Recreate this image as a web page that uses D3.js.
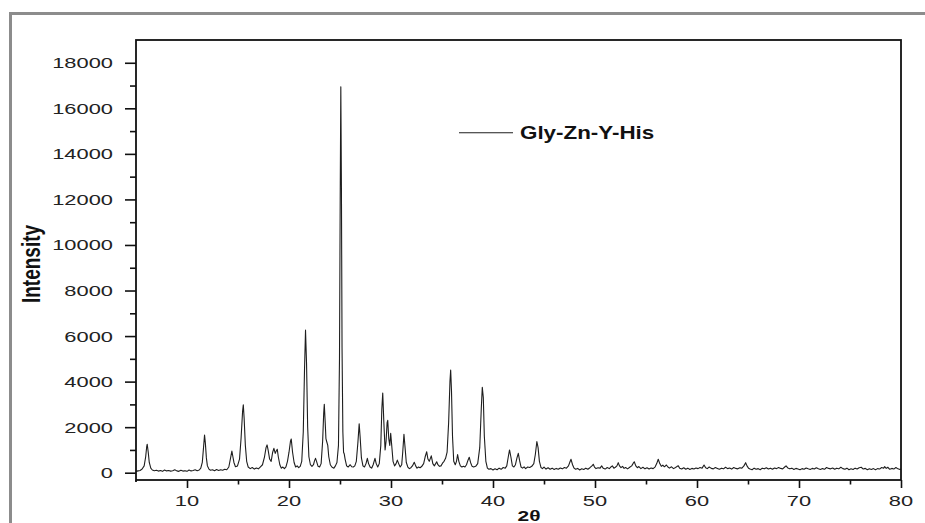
<!DOCTYPE html>
<html><head><meta charset="utf-8">
<script src="https://cdn.jsdelivr.net/npm/d3@7"></script>
<style>
html,body{margin:0;padding:0;background:#fff;}
svg{display:block;}
</style></head>
<body>
<svg id="chart" width="925" height="523"></svg>
<script>
// ---- data (2θ, intensity) ----
const seriesName = "Gly-Zn-Y-His";
const xTicks = [10, 20, 30, 40, 50, 60, 70, 80];
const xMinorTicks = [15, 25, 35, 45, 55, 65, 75];
const yTicks = [0, 2000, 4000, 6000, 8000, 10000, 12000, 14000, 16000, 18000];
const yMinorTicks = [1000, 3000, 5000, 7000, 9000, 11000, 13000, 15000, 17000];
const xTitle = "2θ";
const yTitle = "Intensity";

const pattern = [
[5.0,60],[5.2,80],[5.4,100],[5.6,160],[5.8,300],[5.95,700],[6.05,1150],[6.1,1250],[6.2,900],[6.3,450],[6.45,200],[6.6,120],[6.8,90],
[7.0,110],[7.2,70],[7.4,100],[7.6,60],[7.8,120],[8.0,80],[8.2,100],[8.4,70],[8.6,90],[8.8,130],[9.0,80],[9.2,60],[9.4,110],[9.6,70],[9.8,90],
[10.0,60],[10.2,120],[10.4,80],[10.6,100],[10.8,130],[11.0,90],[11.2,120],[11.35,200],[11.5,450],[11.62,1100],[11.72,1650],[11.8,1300],[11.9,650],
[12.0,300],[12.15,160],[12.3,110],[12.5,130],[12.7,90],[12.9,140],[13.1,100],[13.3,130],[13.5,110],[13.7,150],[13.9,130],[14.1,250],[14.25,600],
[14.4,950],[14.5,700],[14.6,450],[14.75,260],[14.95,300],[15.15,600],[15.3,1500],[15.45,2700],[15.52,2980],[15.6,2400],[15.72,1200],[15.85,500],
[16.0,250],[16.2,180],[16.4,230],[16.6,160],[16.8,210],[17.0,170],[17.2,260],[17.4,350],[17.6,700],[17.75,1100],[17.85,1220],[17.95,1000],
[18.1,600],[18.25,500],[18.4,900],[18.52,1070],[18.65,850],[18.75,950],[18.85,1030],[18.95,700],[19.1,350],[19.25,200],[19.4,250],[19.55,180],
[19.7,260],[19.85,500],[20.0,900],[20.15,1400],[20.22,1480],[20.35,900],[20.5,450],[20.65,250],[20.8,300],[20.95,220],[21.1,280],[21.25,500],
[21.4,1800],[21.52,4500],[21.62,6260],[21.72,4800],[21.83,2000],[21.95,700],[22.1,350],[22.25,280],[22.4,350],[22.5,520],[22.6,630],[22.7,500],
[22.85,280],[23.0,250],[23.15,400],[23.3,1400],[23.4,2600],[23.46,3000],[23.55,2200],[23.62,1500],[23.7,1360],[23.8,1200],[23.9,700],[24.05,350],
[24.2,250],[24.4,200],[24.55,300],[24.7,450],[24.85,1200],[24.95,5000],[25.02,12000],[25.08,16950],[25.14,12500],[25.2,5500],[25.28,1800],
[25.35,900],[25.42,820],[25.5,600],[25.65,300],[25.8,250],[26.0,350],[26.15,260],[26.3,250],[26.45,300],[26.6,500],[26.75,1300],[26.88,2150],
[26.97,1600],[27.1,650],[27.25,300],[27.4,250],[27.55,400],[27.68,630],[27.8,400],[27.95,250],[28.1,200],[28.25,350],[28.43,630],[28.55,400],
[28.7,250],[28.85,400],[29.0,1200],[29.1,2800],[29.19,3500],[29.3,2200],[29.42,1000],[29.52,1400],[29.62,2200],[29.68,2300],[29.78,1500],
[29.88,1200],[29.97,1730],[30.07,1200],[30.2,500],[30.35,300],[30.5,400],[30.62,555],[30.75,400],[30.9,250],[31.05,350],[31.15,900],[31.27,1690],
[31.38,1100],[31.5,450],[31.65,250],[31.8,180],[31.95,220],[32.1,300],[32.28,460],[32.42,300],[32.55,200],[32.7,250],[32.85,220],[33.0,270],
[33.2,400],[33.35,700],[33.5,920],[33.62,600],[33.75,500],[33.95,740],[34.1,400],[34.25,300],[34.4,420],[34.48,483],[34.6,350],[34.75,280],
[34.9,300],[35.05,420],[35.2,500],[35.35,630],[35.5,900],[35.65,2200],[35.78,4000],[35.85,4510],[35.93,3600],[36.03,1600],[36.15,500],[36.3,350],
[36.42,500],[36.53,800],[36.65,500],[36.8,300],[36.95,250],[37.1,280],[37.25,250],[37.4,350],[37.55,550],[37.67,680],[37.8,450],[37.95,280],
[38.1,250],[38.3,280],[38.5,400],[38.7,1100],[38.85,2800],[38.95,3750],[39.05,3300],[39.15,1600],[39.3,500],[39.45,200],[39.6,150],[39.8,180],
[40.0,120],[40.2,170],[40.4,130],[40.6,200],[40.8,150],[41.0,230],[41.2,200],[41.35,300],[41.5,700],[41.62,1000],[41.75,700],[41.9,300],
[42.05,250],[42.2,350],[42.35,650],[42.48,850],[42.6,550],[42.75,250],[42.9,200],[43.05,260],[43.2,180],[43.4,250],[43.6,230],[43.8,280],
[44.0,400],[44.15,800],[44.3,1370],[44.42,1100],[44.55,500],[44.7,230],[44.85,180],[45.0,250],[45.2,160],[45.4,220],[45.6,150],[45.8,200],
[46.0,140],[46.2,190],[46.4,150],[46.6,210],[46.8,170],[47.0,230],[47.2,200],[47.4,300],[47.55,480],[47.65,590],[47.8,350],[47.95,200],
[48.1,150],[48.3,190],[48.5,120],[48.7,170],[48.9,140],[49.1,200],[49.3,150],[49.5,220],[49.7,300],[49.83,370],[49.95,250],[50.1,180],
[50.3,220],[50.5,200],[50.65,300],[50.8,200],[51.0,160],[51.2,230],[51.4,180],[51.55,250],[51.7,300],[51.85,200],[52.0,240],[52.15,300],
[52.28,440],[52.4,300],[52.55,220],[52.7,280],[52.85,190],[53.0,230],[53.2,170],[53.4,240],[53.6,300],[53.75,420],[53.85,480],[54.0,300],
[54.15,220],[54.3,270],[54.5,180],[54.7,240],[54.9,170],[55.1,220],[55.3,160],[55.5,210],[55.7,180],[55.9,260],[56.05,400],[56.2,590],
[56.35,400],[56.5,280],[56.65,330],[56.8,260],[57.0,340],[57.15,250],[57.3,200],[57.5,260],[57.7,180],[57.9,230],[58.05,280],[58.17,300],
[58.3,200],[58.5,160],[58.7,220],[58.9,150],[59.1,200],[59.3,140],[59.5,190],[59.7,160],[59.9,210],[60.1,180],[60.3,230],[60.5,200],
[60.69,340],[60.85,220],[61.0,180],[61.2,250],[61.4,190],[61.6,170],[61.8,230],[62.0,190],[62.2,150],[62.4,200],[62.6,170],[62.8,240],
[63.0,180],[63.2,210],[63.4,160],[63.6,230],[63.8,190],[64.0,170],[64.2,220],[64.4,200],[64.6,300],[64.77,440],[64.9,300],[65.05,200],
[65.2,160],[65.4,130],[65.6,200],[65.8,150],[66.0,180],[66.2,130],[66.4,200],[66.6,170],[66.8,220],[67.0,160],[67.2,200],[67.4,150],
[67.6,210],[67.8,180],[68.0,230],[68.2,190],[68.4,170],[68.6,250],[68.73,300],[68.9,210],[69.1,170],[69.3,200],[69.5,140],[69.7,190],
[69.9,160],[70.1,130],[70.3,180],[70.5,150],[70.7,210],[70.9,170],[71.1,140],[71.3,190],[71.5,160],[71.7,220],[71.9,170],[72.1,140],
[72.3,180],[72.5,150],[72.7,230],[72.9,190],[73.1,170],[73.3,210],[73.5,150],[73.7,200],[73.9,170],[74.1,240],[74.3,180],[74.5,150],
[74.7,200],[74.9,130],[75.1,170],[75.3,140],[75.5,200],[75.7,160],[75.9,220],[76.1,240],[76.3,160],[76.5,190],[76.7,130],[76.9,170],
[77.1,140],[77.3,180],[77.5,130],[77.7,180],[77.9,160],[78.1,230],[78.3,200],[78.4,265],[78.55,190],[78.7,240],[78.9,150],[79.1,190],
[79.3,160],[79.5,230],[79.7,170],[79.9,140],[80.0,160]
];

// ---- layout ----
const svg = d3.select("#chart");
const plot = {left: 136, right: 901, top: 40, bottom: 480};
const x = d3.scaleLinear().domain([5, 80]).range([plot.left, plot.right]);
const y = d3.scaleLinear().domain([-320, 19000]).range([plot.bottom, plot.top]);
const font = "'Liberation Sans', Arial, Helvetica, sans-serif";
const stretch = 1.42;

// outer gray frame
svg.append("line").attr("x1", 10.5).attr("x2", 925).attr("y1", 13.5).attr("y2", 13.5)
  .attr("stroke", "#8c8c8c").attr("stroke-width", 3);
svg.append("line").attr("x1", 10.5).attr("x2", 10.5).attr("y1", 12).attr("y2", 523)
  .attr("stroke", "#8c8c8c").attr("stroke-width", 3);

// data line
const line = d3.line().x(d => x(d[0])).y(d => y(d[1]));
svg.append("path").datum(pattern).attr("d", line)
  .attr("fill", "none").attr("stroke", "#1e1e1e").attr("stroke-width", 1.1)
  .attr("stroke-linejoin", "round");

// axes
function styleAxis(g) {
  g.select(".domain").remove();
  g.selectAll(".tick line").attr("stroke", "#111").attr("stroke-width", 1.6);
  g.selectAll(".tick text").remove();
}
svg.append("g").attr("transform", `translate(${plot.left},0)`)
  .call(d3.axisLeft(y).tickValues(yTicks).tickSize(11).tickSizeOuter(0)).call(styleAxis);
svg.append("g").attr("transform", `translate(${plot.left},0)`)
  .call(d3.axisLeft(y).tickValues(yMinorTicks).tickSize(6).tickSizeOuter(0)).call(styleAxis);
svg.append("g").attr("transform", `translate(0,${plot.bottom})`)
  .call(d3.axisBottom(x).tickValues(xTicks).tickSize(8).tickSizeOuter(0)).call(styleAxis);
svg.append("g").attr("transform", `translate(0,${plot.bottom})`)
  .call(d3.axisBottom(x).tickValues(xMinorTicks).tickSize(4.5).tickSizeOuter(0)).call(styleAxis);

// frame box
svg.append("rect").attr("x", plot.left).attr("y", plot.top)
  .attr("width", plot.right - plot.left).attr("height", plot.bottom - plot.top)
  .attr("fill", "none").attr("stroke", "#111").attr("stroke-width", 1.8);
svg.append("line").attr("x1", plot.left).attr("x2", plot.left).attr("y1", plot.bottom).attr("y2", plot.bottom + 2)
  .attr("stroke", "#111").attr("stroke-width", 1.8);

// tick labels
svg.append("g").selectAll("text").data(yTicks).join("text")
  .attr("transform", d => `translate(113,${y(d) + 5.5}) scale(${stretch},1)`)
  .attr("text-anchor", "end").attr("font-family", font).attr("font-size", 15.4)
  .attr("fill", "#222").text(d => d);
svg.append("g").selectAll("text").data(xTicks).join("text")
  .attr("transform", d => `translate(${x(d)},506) scale(${stretch},1)`)
  .attr("text-anchor", "middle").attr("font-family", font).attr("font-size", 15.4)
  .attr("fill", "#222").text(d => d);

// axis titles
svg.append("text")
  .attr("transform", `translate(40,264) rotate(-90) scale(1,1.35)`)
  .attr("text-anchor", "middle").attr("font-family", "'Liberation Sans Narrow', 'Arial Narrow', " + font)
  .attr("font-weight", "bold").attr("font-size", 19).attr("fill", "#111").text(yTitle);
svg.append("text")
  .attr("transform", `translate(529,521) scale(1.35,1)`)
  .attr("text-anchor", "middle").attr("font-family", font)
  .attr("font-weight", "bold").attr("font-size", 15.5).attr("fill", "#111").text(xTitle);

// legend
svg.append("line").attr("x1", 459).attr("x2", 513).attr("y1", 132.7).attr("y2", 132.7)
  .attr("stroke", "#1e1e1e").attr("stroke-width", 1.1);
svg.append("text")
  .attr("transform", `translate(520,139) scale(1.28,1)`)
  .attr("font-family", font).attr("font-weight", "bold").attr("font-size", 17.5)
  .attr("fill", "#111").text(seriesName);
</script>
</body></html>
